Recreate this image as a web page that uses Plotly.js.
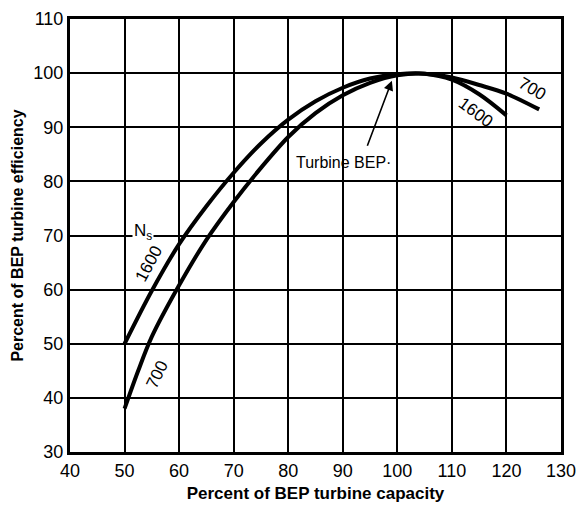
<!DOCTYPE html>
<html>
<head>
<meta charset="utf-8">
<script src="https://cdn.plot.ly/plotly-3.0.1.min.js"></script>
<style>html,body{margin:0;padding:0;background:#fff;}#chart{width:577px;height:507px;}</style>
</head>
<body>
<div id="chart"></div>
<script>
// Percent of BEP turbine capacity (x) vs percent of BEP turbine efficiency (y)
const ns1600_x = [50, 55, 60, 65, 70, 75, 80, 85, 90, 95, 100, 105, 110, 115, 120];
const ns1600_y = [50, 59.8, 68.4, 75.4, 81.6, 87.0, 91.4, 94.8, 97.3, 99.0, 99.8, 99.9, 98.8, 96.1, 92.2];
const ns700_x = [50, 52.5, 55, 60, 65, 70, 75, 80, 85, 90, 95, 100, 105, 110, 115, 120, 126];
const ns700_y = [38, 45.0, 51.3, 60.8, 69.2, 76.2, 82.5, 88.2, 92.6, 95.9, 98.2, 99.6, 99.9, 99.2, 97.8, 96.2, 93.3];
const xTicks = [40, 50, 60, 70, 80, 90, 100, 110, 120, 130];
const yTicks = [30, 40, 50, 60, 70, 80, 90, 100, 110];
const seriesNames = ["1600", "700"];

const FONT = "Liberation Sans, Arial, sans-serif";
const lineStyle = {color: "#000", width: 4, shape: "spline", smoothing: 0.9};

const traces = [
  {x: ns1600_x, y: ns1600_y, mode: "lines", name: seriesNames[0], line: lineStyle, hoverinfo: "skip"},
  {x: ns700_x, y: ns700_y, mode: "lines", name: seriesNames[1], line: lineStyle, hoverinfo: "skip"}
];

const annFont = {family: FONT, size: 17, color: "#000"};
const annotations = [
  {x: 53.3, y: 70.7, xref: "x", yref: "y", text: "N<sub>s</sub>", showarrow: false,
   bgcolor: "#fff", font: {family: FONT, size: 17, color: "#000"}, borderpad: 1},
  {x: 54.5, y: 64.8, xref: "x", yref: "y", text: seriesNames[0], showarrow: false, textangle: -62, font: annFont},
  {x: 56.0, y: 44.3, xref: "x", yref: "y", text: seriesNames[1], showarrow: false, textangle: -64, font: annFont},
  {x: 124.6, y: 97.1, xref: "x", yref: "y", text: seriesNames[1], showarrow: false, textangle: 30, font: annFont},
  {x: 114.4, y: 92.8, xref: "x", yref: "y", text: seriesNames[0], showarrow: false, textangle: 36, font: annFont},
  {x: 90.1, y: 83.4, xref: "x", yref: "y", text: "Turbine BEP·", showarrow: false,
   font: {family: FONT, size: 16, color: "#000"}},
  {x: 99.0, y: 98.6, xref: "x", yref: "y", ax: 94.4, ay: 86.3, axref: "x", ayref: "y",
   text: "", showarrow: true, arrowhead: 2, arrowsize: 1.2, arrowwidth: 1.6, arrowcolor: "#000"}
];

const layout = {
  width: 577, height: 507,
  margin: {l: 70, r: 16, t: 19, b: 55},
  paper_bgcolor: "#fff", plot_bgcolor: "#fff",
  showlegend: false,
  font: {family: FONT, color: "#000"},
  xaxis: {
    range: [40, 130], tickvals: xTicks, ticktext: xTicks.map(String),
    showgrid: true, gridcolor: "#000", gridwidth: 2,
    showline: true, linecolor: "#000", linewidth: 3, mirror: true,
    zeroline: false, ticks: "", tickfont: {family: FONT, size: 18, color: "#000"},
    automargin: false,
    title: {text: "Percent of BEP turbine capacity", font: {family: FONT, size: 17, color: "#000", weight: "bold"}, standoff: 8}
  },
  yaxis: {
    range: [30, 110], tickvals: yTicks, ticktext: yTicks.map(String),
    showgrid: true, gridcolor: "#000", gridwidth: 2,
    showline: true, linecolor: "#000", linewidth: 3, mirror: true,
    zeroline: false, ticks: "", tickfont: {family: FONT, size: 18, color: "#000"},
    automargin: false,
    title: {text: "Percent of BEP turbine efficiency", font: {family: FONT, size: 16, color: "#000", weight: "bold"}, standoff: 6}
  },
  annotations: annotations
};

Plotly.newPlot("chart", traces, layout, {staticPlot: true, displayModeBar: false});
</script>
</body>
</html>
